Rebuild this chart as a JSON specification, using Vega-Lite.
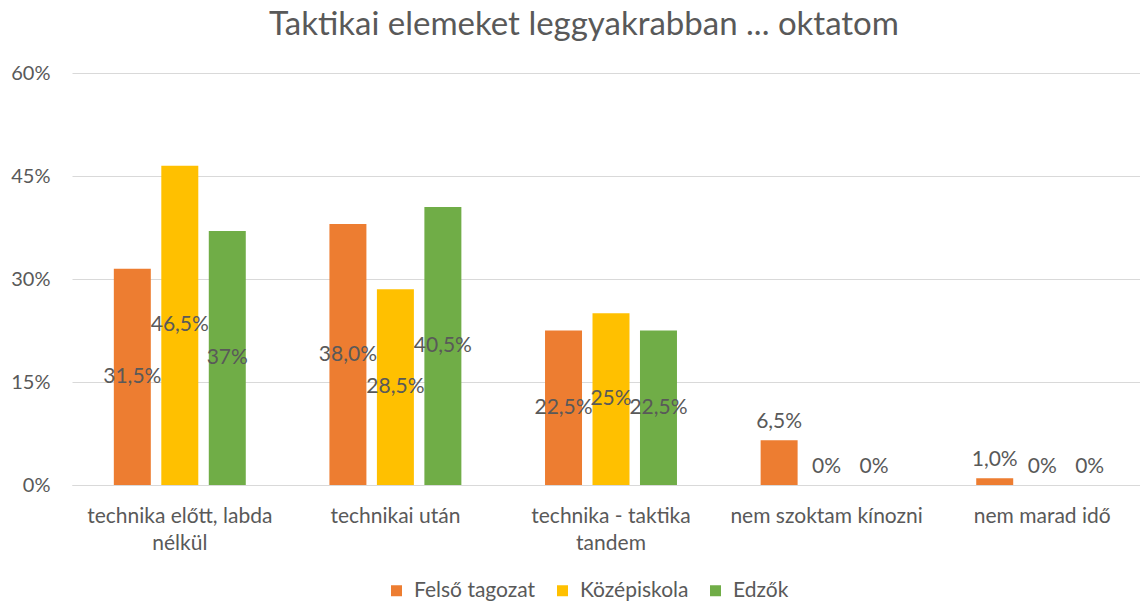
{
  "$schema": "https://vega.github.io/schema/vega-lite/v6.json",
  "width": 1078,
  "height": 412,
  "autosize": {"type": "none"},
  "padding": {"left": 72, "top": 73, "right": 0, "bottom": 118},
  "background": "white",
  "title": {"text": "Taktikai elemeket leggyakrabban ... oktatom", "font": "Lato", "fontSize": 33, "fontWeight": "normal", "color": "#595959", "anchor": "middle", "offset": 21, "dx": -27},
  "config": {
    "view": {"stroke": null},
    "font": "Lato",
    "text": {"font": "Lato"}
  },
  "data": {
    "values": [
      {"category": "technika előtt, labda nélkül", "series": "Felső tagozat", "value": 0.315, "label": "31,5%"},
      {"category": "technika előtt, labda nélkül", "series": "Középiskola", "value": 0.465, "label": "46,5%"},
      {"category": "technika előtt, labda nélkül", "series": "Edzők", "value": 0.37, "label": "37%"},
      {"category": "technikai után", "series": "Felső tagozat", "value": 0.38, "label": "38,0%"},
      {"category": "technikai után", "series": "Középiskola", "value": 0.285, "label": "28,5%"},
      {"category": "technikai után", "series": "Edzők", "value": 0.405, "label": "40,5%"},
      {"category": "technika - taktika tandem", "series": "Felső tagozat", "value": 0.225, "label": "22,5%"},
      {"category": "technika - taktika tandem", "series": "Középiskola", "value": 0.25, "label": "25%"},
      {"category": "technika - taktika tandem", "series": "Edzők", "value": 0.225, "label": "22,5%"},
      {"category": "nem szoktam kínozni", "series": "Felső tagozat", "value": 0.065, "label": "6,5%"},
      {"category": "nem szoktam kínozni", "series": "Középiskola", "value": 0, "label": "0%"},
      {"category": "nem szoktam kínozni", "series": "Edzők", "value": 0, "label": "0%"},
      {"category": "nem marad idő", "series": "Felső tagozat", "value": 0.01, "label": "1,0%"},
      {"category": "nem marad idő", "series": "Középiskola", "value": 0, "label": "0%"},
      {"category": "nem marad idő", "series": "Edzők", "value": 0, "label": "0%"}
    ]
  },
  "encoding": {
    "x": {
      "field": "category", "type": "nominal", "sort": null,
      "scale": {"paddingInner": 0.388, "paddingOuter": 0.194},
      "axis": {
        "title": null, "labelAngle": 0, "ticks": false, "domain": true, "domainColor": "#d9d9d9", "domainWidth": 1,
        "labelFontSize": 21, "labelColor": "#595959", "labelPadding": 20, "labelLineHeight": 27, "labelLimit": 400,
        "labelExpr": "datum.label == 'technika előtt, labda nélkül' ? ['technika előtt, labda', 'nélkül'] : datum.label == 'technika - taktika tandem' ? ['technika - taktika', 'tandem'] : datum.label"
      }
    },
    "xOffset": {"field": "series", "type": "nominal", "sort": ["Felső tagozat", "Középiskola", "Edzők"], "scale": {"paddingInner": 0.221, "paddingOuter": 0}}
  },
  "layer": [
    {
      "mark": {"type": "bar"},
      "encoding": {
        "y": {
          "field": "value", "type": "quantitative",
          "scale": {"domain": [0, 0.6]},
          "axis": {"title": null, "values": [0, 0.15, 0.3, 0.45, 0.6], "format": ".0%", "domain": false, "ticks": false, "grid": true, "gridColor": "#d9d9d9", "gridWidth": 1, "labelFontSize": 20, "labelColor": "#595959", "labelPadding": 22}
        },
        "color": {
          "field": "series", "type": "nominal",
          "sort": ["Felső tagozat", "Középiskola", "Edzők"],
          "scale": {"domain": ["Felső tagozat", "Középiskola", "Edzők"], "range": ["#ED7D31", "#FFC000", "#70AD47"]},
          "legend": {"title": null, "orient": "none", "direction": "horizontal", "legendX": 314, "legendY": 507, "symbolType": "square", "symbolSize": 121, "symbolStrokeWidth": 0, "labelFontSize": 21, "labelColor": "#595959", "labelOffset": 7, "columnPadding": 16}
        }
      }
    },
    {
      "transform": [{"filter": "datum.value >= 0.1"}, {"calculate": "datum.value / 2", "as": "mid"}],
      "mark": {"type": "text", "fontSize": 21, "color": "#595959", "baseline": "middle"},
      "encoding": {
        "y": {"field": "mid", "type": "quantitative"},
        "text": {"field": "label"}
      }
    },
    {
      "transform": [{"filter": "datum.value < 0.1"}],
      "mark": {"type": "text", "fontSize": 21, "color": "#595959", "baseline": "middle", "dy": -18},
      "encoding": {
        "y": {"field": "value", "type": "quantitative"},
        "text": {"field": "label"}
      }
    }
  ]
}
